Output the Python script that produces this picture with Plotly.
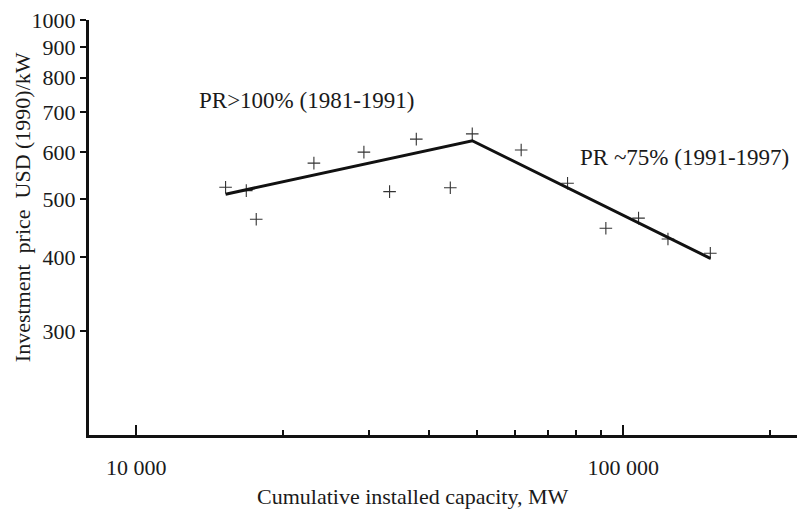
import math
import plotly.graph_objects as go

# Observed data points (cumulative capacity MW, price USD(1990)/kW)
capacity = [15260, 16830, 17640, 23170, 29350, 33140, 37600, 44160, 48990,
            61740, 76880, 92150, 107550, 123600, 151000]
price = [524, 517, 463, 575, 600, 515, 631, 523, 644,
         605, 532, 447, 465, 429, 406]

# Fitted experience curve segments
fit_capacity = [15260, 48990, 151000]
fit_price = [510, 627, 398]

# Axis ticks
y_ticks = [300, 400, 500, 600, 700, 800, 900, 1000]
x_major = [10000, 100000]
x_major_labels = ["10 000", "100 000"]
x_minor = [20000, 30000, 40000, 50000, 60000, 70000, 80000, 90000, 200000]

FONT = "Liberation Serif"
INK = "#1a1a1a"

fig = go.Figure()
fig.add_trace(go.Scatter(
    x=capacity, y=price, mode="markers",
    marker=dict(symbol="cross-thin", size=9, line=dict(width=1.1, color="#333333")),
    showlegend=False, hoverinfo="skip"))
fig.add_trace(go.Scatter(
    x=fit_capacity, y=fit_price, mode="lines",
    line=dict(color="#111111", width=3), showlegend=False, hoverinfo="skip"))

fig.update_layout(
    width=797, height=510,
    margin=dict(l=89, r=0, t=20, b=75),
    plot_bgcolor="white", paper_bgcolor="white",
    font=dict(family=FONT, size=22, color=INK),
    xaxis=dict(
        type="log", range=[math.log10(8000), 5.357],
        showline=True, linecolor="#111111", linewidth=3,
        showgrid=False, zeroline=False,
        tickmode="array", tickvals=x_major, ticktext=x_major_labels,
        ticks="inside", ticklen=10, tickwidth=2, tickcolor="#111111",
        ticklabelstandoff=11,
        tickfont=dict(family=FONT, size=22, color=INK),
        minor=dict(tickmode="array", tickvals=x_minor, ticks="inside",
                   ticklen=5, tickwidth=2, tickcolor="#111111", showgrid=False),
    ),
    yaxis=dict(
        type="log", range=[2.3033, 3.0],
        showline=True, linecolor="#111111", linewidth=3,
        showgrid=False, zeroline=False,
        tickmode="array", tickvals=y_ticks, ticktext=[str(v) for v in y_ticks],
        ticks="outside", ticklen=6, tickwidth=2, tickcolor="#111111",
        tickfont=dict(family=FONT, size=22, color=INK),
    ),
    annotations=[
        dict(text="PR&gt;100% (1981-1991)", xref="paper", yref="paper",
             x=0.1525, y=0.807, xanchor="left", yanchor="middle",
             showarrow=False, font=dict(family=FONT, size=23, color=INK)),
        dict(text="PR ~75% (1991-1997)", xref="paper", yref="paper",
             x=0.6907, y=0.6675, xanchor="left", yanchor="middle",
             showarrow=False, font=dict(family=FONT, size=23, color=INK)),
        dict(text="Cumulative installed capacity, MW", xref="paper", yref="paper",
             x=0.4576, y=-0.147, xanchor="center", yanchor="middle",
             showarrow=False, font=dict(family=FONT, size=22, color=INK)),
        dict(text="Investment\u00a0\u00a0price\u00a0\u00a0USD (1990)/kW", xref="paper", yref="paper",
             x=-0.0946, y=0.549, xanchor="center", yanchor="middle", textangle=-90,
             showarrow=False, font=dict(family=FONT, size=22, color=INK)),
    ],
)

fig.write_html("out.html")
